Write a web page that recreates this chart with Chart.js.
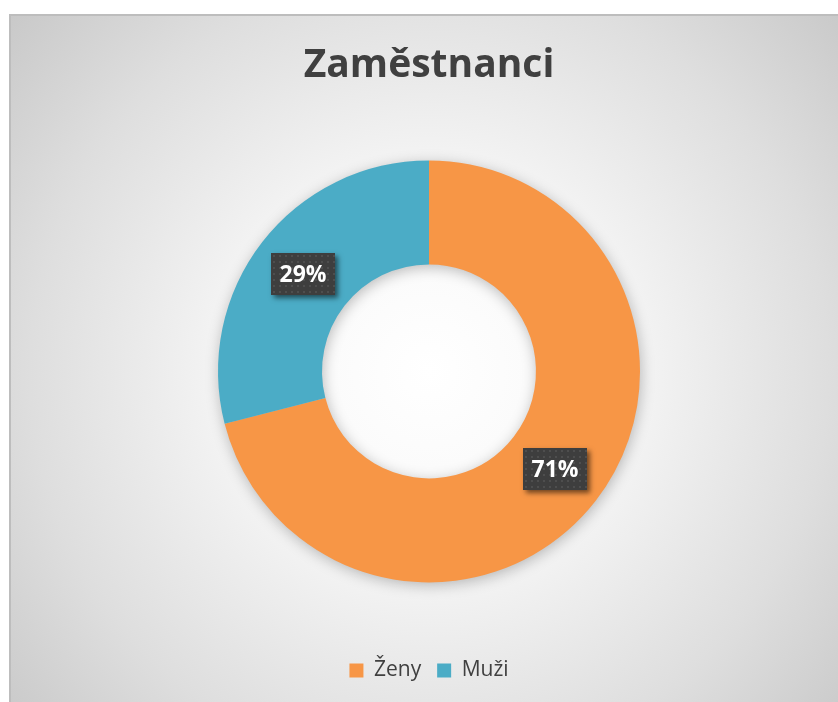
<!DOCTYPE html>
<html><head><meta charset="utf-8">
<script src="https://cdn.jsdelivr.net/npm/chart.js@4.4.1/dist/chart.umd.min.js"></script>
<style>html,body{margin:0;padding:0;background:#fff;overflow:hidden}#wrap{width:838px;height:702px;position:relative}</style>
</head><body><div id="wrap"><canvas id="c" width="838" height="702"></canvas></div>
<script>
const categories = ['Ženy', 'Muži'];
const values = [71, 29];
const titleText = 'Zaměstnanci';
const sliceColors = ['#F79646', '#4BACC6'];

const bgPlugin = {
  id: 'bg',
  beforeDraw(chart) {
    const {ctx, chartArea} = chart;
    const W = chart.width, H = chart.height;
    ctx.save();
    ctx.fillStyle = '#ffffff';
    ctx.fillRect(0, 0, W, H);
    const cx = (chartArea.left + chartArea.right) / 2;
    const cy = (chartArea.top + chartArea.bottom) / 2;
    const g = ctx.createRadialGradient(cx, cy, 0, cx, cy, 570);
    g.addColorStop(0, '#ffffff');
    g.addColorStop(0.3, '#f8f8f8');
    g.addColorStop(0.7, '#dedede');
    g.addColorStop(1, '#c6c6c6');
    ctx.fillStyle = g;
    ctx.fillRect(9, 14, W - 9, H - 14);
    ctx.strokeStyle = '#bdbdbd';
    ctx.lineWidth = 2;
    ctx.beginPath();
    ctx.moveTo(10, H); ctx.lineTo(10, 15); ctx.lineTo(W, 15);
    ctx.stroke();
    ctx.restore();
  }
};

const shadowPlugin = {
  id: 'ringShadow',
  beforeDatasetsDraw(chart) {
    const meta = chart.getDatasetMeta(0);
    if (!meta.data.length) return;
    const {x, y, outerRadius, innerRadius} = meta.data[0].getProps(['x', 'y', 'outerRadius', 'innerRadius'], true);
    const {ctx} = chart;
    const off = 5000;
    ctx.save();
    ctx.shadowColor = 'rgba(0,0,0,0.25)';
    ctx.shadowBlur = 14;
    ctx.shadowOffsetX = off + 1;
    ctx.shadowOffsetY = 3;
    ctx.fillStyle = '#000';
    ctx.beginPath();
    ctx.arc(x - off, y, outerRadius, 0, Math.PI * 2);
    ctx.arc(x - off, y, innerRadius, 0, Math.PI * 2, true);
    ctx.fill('evenodd');
    ctx.restore();
  }
};

function makePattern(ctx) {
  const p = document.createElement('canvas');
  p.width = 6; p.height = 6;
  const pc = p.getContext('2d');
  pc.fillStyle = '#3e3e3e';
  pc.fillRect(0, 0, 6, 6);
  pc.fillStyle = '#4e4e4e';
  pc.fillRect(2, 2, 2, 2);
  return ctx.createPattern(p, 'repeat');
}

const labelPlugin = {
  id: 'boxLabels',
  afterDatasetsDraw(chart) {
    const {ctx} = chart;
    const meta = chart.getDatasetMeta(0);
    const pattern = makePattern(ctx);
    meta.data.forEach((el, i) => {
      const pos = el.tooltipPosition(true);
      const w = 64, h = 42;
      const bx = Math.round(pos.x - w / 2), by = Math.round(pos.y - h / 2);
      ctx.save();
      ctx.shadowColor = 'rgba(0,0,0,0.55)';
      ctx.shadowBlur = 5;
      ctx.shadowOffsetX = 3;
      ctx.shadowOffsetY = 3;
      ctx.fillStyle = '#404040';
      ctx.fillRect(bx, by, w, h);
      ctx.restore();
      ctx.save();
      ctx.fillStyle = pattern;
      ctx.translate(bx, by);
      ctx.fillRect(0, 0, w, h);
      ctx.restore();
      ctx.save();
      ctx.fillStyle = '#ffffff';
      ctx.font = 'bold 23px "Open Sans"';
      ctx.textAlign = 'center';
      ctx.textBaseline = 'middle';
      ctx.fillText(values[i] + '%', bx + w / 2, by + h / 2 + 1);
      ctx.restore();
    });
  }
};

function build() {
  new Chart(document.getElementById('c'), {
    type: 'doughnut',
    data: {
      labels: categories,
      datasets: [{
        data: values,
        backgroundColor: sliceColors,
        borderColor: sliceColors,
        borderWidth: 0,
        hoverOffset: 0
      }]
    },
    options: {
      responsive: false,
      animation: false,
      radius: 211,
      cutout: '50.7%',
      layout: {padding: {top: 14, left: 20, right: 0, bottom: 11}},
      plugins: {
        title: {
          display: true,
          text: titleText,
          color: '#404040',
          font: {family: '"Open Sans"', size: 39, weight: 'bold'},
          padding: {top: 28, bottom: 10}
        },
        legend: {
          position: 'bottom',
          labels: {
            boxWidth: 14,
            boxHeight: 14,
            padding: 16,
            color: '#404040',
            font: {family: '"Open Sans"', size: 21}
          }
        },
        tooltip: {enabled: false}
      }
    },
    plugins: [bgPlugin, shadowPlugin, labelPlugin]
  });
}
Promise.all([
  document.fonts.load('bold 39px "Open Sans"'),
  document.fonts.load('21px "Open Sans"')
]).then(build, build);
</script>
</body></html>
